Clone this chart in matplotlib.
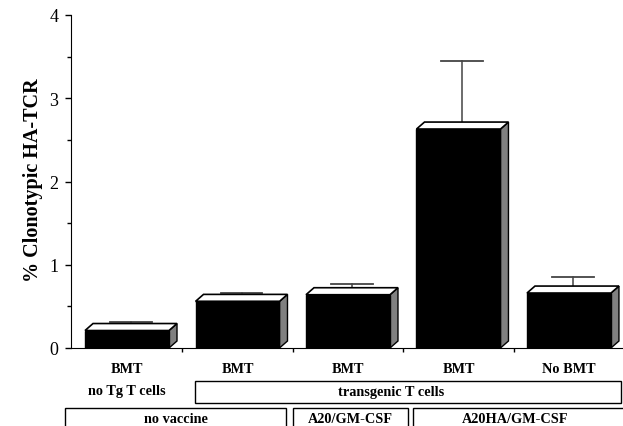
import matplotlib
matplotlib.use("Agg")
import matplotlib.pyplot as plt
from matplotlib.patches import Polygon, Rectangle
import numpy as np

# ---- data ----
bar_labels = ["BMT", "BMT", "BMT", "BMT", "No BMT"]
values = [0.21, 0.56, 0.64, 2.63, 0.66]
err_tops = [0.31, 0.66, 0.77, 3.45, 0.85]
y_ticks = [0, 1, 2, 3, 4]
y_label = "% Clonotypic HA-TCR"
row2_text = ["no Tg T cells", "transgenic T cells"]
row3_text = ["no vaccine", "A20/GM-CSF", "A20HA/GM-CSF"]

W, H = 623, 427
plt.rcParams['font.family'] = ['Liberation Serif', 'DejaVu Serif']
fig = plt.figure(figsize=(W / 100, H / 100), dpi=100)

def fx(px):
    return px / W

def fy(py):
    return 1 - py / H

ax = fig.add_axes([fx(71), fy(349), fx(622) - fx(71), fy(16) - fy(349)])
ax.set_ylim(0, 4)
ax.set_xlim(-0.507, 4.48)
for s in ["top", "right"]:
    ax.spines[s].set_visible(False)

width = 0.76
dx = 8 / 110.5
dy = 7 / 83.3
for i, (v, e) in enumerate(zip(values, err_tops)):
    l = i - width / 2
    r = i + width / 2
    # side face
    ax.add_patch(Polygon([(r, 0), (r + dx, dy), (r + dx, v + dy), (r, v)],
                         closed=True, facecolor="#808080", edgecolor="black", lw=1.0, zorder=2))
    # top face
    ax.add_patch(Polygon([(l, v), (l + dx, v + dy), (r + dx, v + dy), (r, v)],
                         closed=True, facecolor="white", edgecolor="black", lw=1.2, zorder=2))
    # front
    ax.add_patch(Rectangle((l, 0), width, v, facecolor="black", edgecolor="black", lw=1.0, zorder=3))
    # error bar
    cx = i + dx / 2
    ax.plot([cx, cx], [v + dy / 2, e], color="#444444", lw=1.1, zorder=1.5)
    ax.plot([cx - 0.19, cx + 0.19], [e, e], color="#444444", lw=1.3, zorder=1.5)

ax.set_yticks(y_ticks)
ax.set_yticklabels([str(t) for t in y_ticks], fontsize=13)
ax.set_yticks([0.5, 1.5, 2.5, 3.5], minor=True)
ax.tick_params(axis="y", which="major", length=4, width=1, pad=5)
ax.tick_params(axis="y", which="minor", length=3, width=1)

ax.set_xticks(range(len(bar_labels)))
ax.set_xticklabels(bar_labels, fontsize=10.3, fontweight="bold")
ax.tick_params(axis="x", which="major", length=0, pad=10)
ax.set_xticks([0.5, 1.5, 2.5, 3.5], minor=True)
ax.tick_params(axis="x", which="minor", length=3, width=1)

fig.text(fx(33), fy(180), y_label, rotation=90, ha="center", va="center",
         fontsize=14.5, fontweight="bold")

# row 2
fig.text(fx(127), fy(392), row2_text[0], ha="center", va="center", fontsize=10.3, fontweight="bold")
fig.patches.append(Rectangle((fx(195), fy(404)), fx(621) - fx(195), fy(382) - fy(404),
                             transform=fig.transFigure, fill=False, edgecolor="black", lw=1.0))
fig.text(fx(391), fy(393), row2_text[1], ha="center", va="center", fontsize=10.3, fontweight="bold")

# row 3
boxes = [(65, 286), (293, 408), (413, 640)]
for (x0, x1), t in zip(boxes, row3_text):
    fig.patches.append(Rectangle((fx(x0), fy(440)), fx(x1) - fx(x0), fy(409) - fy(440),
                                 transform=fig.transFigure, fill=False, edgecolor="black", lw=1.0))
    fig.text(fx((x0 + min(x1, 622)) / 2 if x1 < 622 else 515), fy(420), t,
             ha="center", va="center", fontsize=10.3, fontweight="bold")

fig.savefig("out.png", dpi=100)
